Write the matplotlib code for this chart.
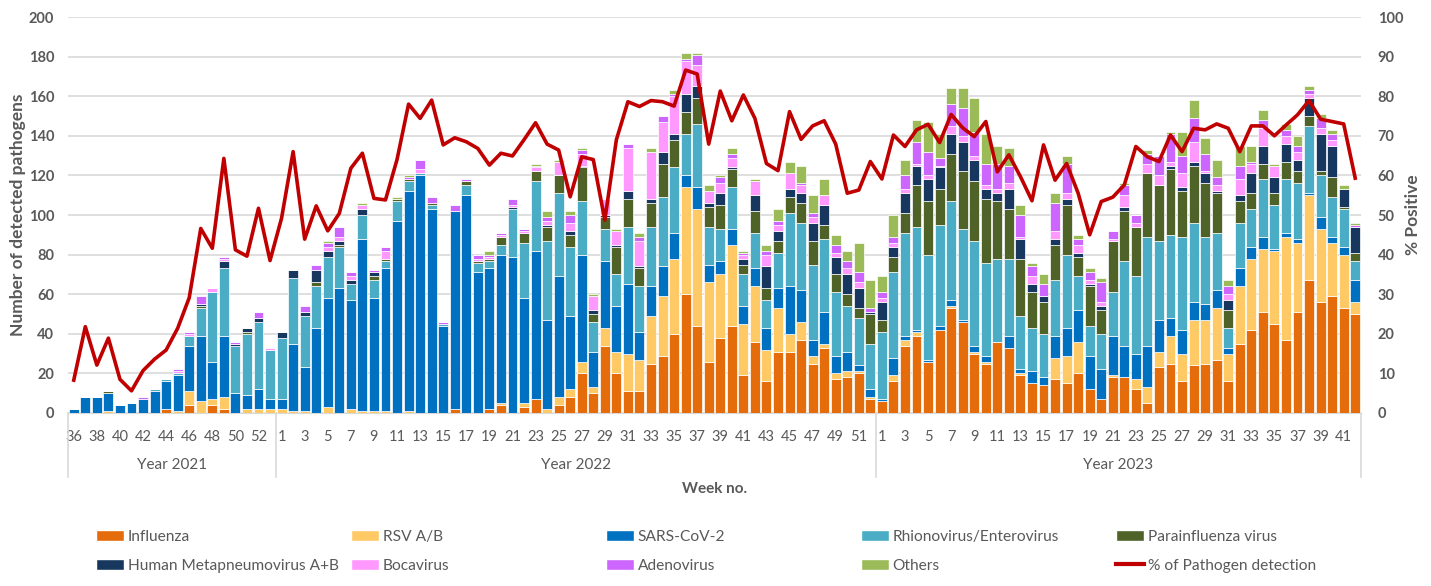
import numpy as np
import matplotlib.pyplot as plt
from matplotlib.transforms import blended_transform_factory
from matplotlib.patches import Patch
from matplotlib.lines import Line2D

plt.rcParams['font.family'] = ['Lato', 'DejaVu Sans']

# week numbers (2021 has week 53)
weeks_2021 = list(range(36, 54))
weeks_2022 = list(range(1, 53))
weeks_2023 = list(range(1, 43))
weeks = weeks_2021 + weeks_2022 + weeks_2023
years = ['Year 2021', 'Year 2022', 'Year 2023']

influenza = [0, 0, 0, 0, 0, 0, 0, 0, 2, 0, 4, 0, 4, 2, 0, 0, 0, 0, 0, 0,
             0, 0, 0, 0, 0, 0, 0, 0, 0, 0, 0, 0, 0, 2, 0, 0, 2, 4, 0, 3,
             7, 0, 4, 8, 20, 10, 34, 20, 11, 11, 25, 29, 40, 60, 44, 26, 38, 44, 19, 36,
             16, 31, 31, 37, 25, 33, 17, 18, 20, 7, 6, 16, 34, 39, 26, 42, 53, 46, 30, 25,
             36, 33, 19, 15, 14, 17, 15, 20, 12, 7, 18, 18, 12, 5, 23, 25, 16, 24, 25, 27,
             16, 35, 42, 51, 45, 37, 51, 67, 56, 59, 53, 50]
rsv = [0, 0, 0, 1, 0, 0, 0, 0, 0, 1, 7, 6, 3, 6, 0, 2, 2, 2, 2, 1,
       1, 0, 3, 0, 2, 1, 1, 1, 0, 1, 0, 0, 0, 0, 0, 0, 0, 1, 0, 2,
       0, 2, 4, 4, 6, 3, 9, 11, 19, 16, 24, 30, 38, 54, 59, 40, 32, 41, 26, 28,
       16, 22, 9, 9, 4, 2, 3, 3, 1, 1, 0, 3, 3, 2, 0, 0, 1, 0, 1, 1,
       0, 0, 1, 0, 0, 11, 14, 16, 0, 0, 1, 0, 5, 8, 8, 14, 14, 23, 22, 26,
       14, 29, 36, 32, 37, 52, 35, 43, 37, 27, 27, 6]
sars = [2, 8, 8, 9, 4, 5, 7, 11, 14, 18, 23, 33, 19, 31, 10, 7, 10, 5, 5, 34,
        22, 43, 55, 63, 55, 87, 57, 72, 97, 111, 120, 103, 44, 100, 110, 71, 71, 75, 79, 53,
        75, 45, 61, 37, 54, 18, 34, 23, 35, 14, 15, 15, 13, 6, 11, 9, 7, 8, 9, 9,
        11, 10, 24, 16, 8, 16, 9, 10, 3, 4, 1, 9, 2, 1, 1, 2, 3, 1, 3, 3,
        0, 6, 2, 6, 4, 11, 14, 16, 17, 15, 20, 16, 13, 21, 16, 9, 12, 9, 8, 9,
        3, 9, 6, 6, 1, 2, 2, 1, 6, 3, 4, 11]
rhino = [0, 0, 0, 0, 0, 0, 0, 1, 1, 1, 5, 14, 35, 34, 24, 31, 34, 25, 31, 33,
         26, 21, 21, 21, 8, 12, 9, 4, 10, 5, 1, 2, 1, 0, 5, 5, 4, 5, 24, 28,
         35, 40, 42, 35, 27, 15, 16, 16, 29, 23, 30, 35, 33, 21, 32, 19, 16, 21, 16, 18,
         14, 18, 37, 34, 38, 37, 32, 23, 24, 23, 34, 43, 52, 52, 53, 51, 50, 46, 53, 47,
         42, 39, 27, 22, 22, 28, 37, 17, 15, 18, 22, 43, 39, 55, 40, 42, 47, 40, 34, 29,
         10, 23, 19, 29, 22, 27, 28, 34, 21, 20, 19, 10]
para = [0, 0, 0, 1, 0, 0, 0, 0, 0, 0, 0, 1, 0, 0, 0, 1, 0, 0, 0, 0,
        0, 2, 0, 1, 0, 0, 2, 1, 1, 1, 0, 1, 0, 0, 2, 1, 1, 4, 0, 5,
        5, 7, 9, 6, 17, 4, 6, 14, 14, 9, 12, 17, 14, 11, 13, 10, 12, 9, 5, 11,
        6, 6, 8, 10, 12, 7, 9, 6, 5, 15, 6, 8, 10, 21, 27, 18, 24, 29, 30, 32,
        29, 25, 29, 18, 16, 18, 25, 10, 20, 12, 26, 25, 25, 32, 28, 33, 23, 29, 27, 20,
        9, 11, 8, 8, 6, 9, 6, 5, 2, 10, 1, 4]
hmpv = [0, 0, 0, 0, 0, 0, 0, 0, 0, 0, 0, 1, 0, 4, 1, 2, 2, 0, 3, 4,
        2, 6, 3, 2, 2, 3, 2, 0, 0, 0, 0, 0, 0, 0, 0, 0, 0, 0, 1, 0,
        0, 1, 0, 2, 1, 2, 1, 1, 4, 1, 2, 6, 3, 9, 6, 2, 6, 1, 3, 8,
        11, 5, 4, 5, 9, 10, 9, 10, 10, 1, 9, 5, 10, 10, 11, 11, 10, 15, 11, 5,
        4, 10, 10, 4, 3, 3, 3, 2, 1, 2, 0, 2, 0, 0, 0, 2, 2, 2, 5, 1,
        5, 3, 10, 9, 8, 9, 6, 9, 19, 16, 9, 13]
boca = [0, 0, 0, 0, 0, 0, 0, 0, 0, 1, 1, 0, 2, 1, 0, 0, 0, 1, 0, 0,
        0, 0, 2, 2, 2, 2, 0, 4, 0, 0, 2, 0, 0, 0, 0, 1, 1, 1, 1, 1,
        2, 2, 7, 4, 6, 7, 8, 7, 22, 13, 24, 15, 19, 17, 11, 6, 5, 5, 2, 7,
        6, 3, 8, 4, 3, 5, 2, 3, 3, 0, 2, 2, 2, 1, 2, 1, 4, 3, 2, 2,
        2, 3, 1, 4, 0, 4, 3, 4, 2, 2, 1, 6, 2, 5, 5, 2, 7, 10, 1, 3,
        3, 8, 5, 9, 6, 4, 4, 2, 3, 3, 0, 0]
adeno = [0, 0, 0, 0, 0, 0, 1, 0, 0, 1, 1, 4, 0, 1, 1, 0, 3, 0, 0, 0,
         3, 3, 2, 5, 2, 0, 1, 2, 0, 1, 5, 3, 1, 3, 1, 2, 1, 1, 3, 1,
         1, 2, 0, 4, 2, 0, 0, 0, 2, 2, 0, 3, 1, 1, 5, 0, 3, 2, 1, 0,
         2, 2, 0, 1, 2, 0, 4, 4, 5, 2, 3, 3, 7, 11, 12, 4, 11, 14, 12, 11,
         13, 9, 11, 5, 6, 14, 15, 3, 4, 10, 4, 5, 4, 5, 10, 14, 9, 12, 9, 4,
         4, 7, 1, 4, 0, 3, 3, 2, 5, 3, 0, 1]
others = [0, 0, 0, 0, 0, 0, 0, 0, 0, 0, 0, 0, 0, 0, 0, 0, 0, 0, 0, 0,
          0, 0, 1, 0, 0, 1, 0, 0, 1, 1, 0, 0, 0, 0, 0, 0, 2, 0, 0, 0,
          1, 3, 1, 2, 1, 1, 0, 1, 0, 2, 2, 0, 2, 3, 1, 3, 1, 3, 1, 1,
          3, 6, 6, 9, 9, 8, 5, 5, 15, 14, 8, 11, 8, 11, 15, 12, 8, 10, 17, 15,
          9, 9, 5, 2, 5, 5, 4, 2, 2, 2, 0, 1, 0, 2, 0, 1, 12, 9, 8, 9,
          3, 10, 8, 5, 1, 3, 5, 2, 2, 2, 2, 1]
pct_positive = [8.3, 21.8, 12.1, 18.9, 8.5, 5.6, 10.7, 13.6, 15.9, 21.4,
                29.1, 46.6, 41.6, 64.3, 41.2, 39.6, 51.7, 38.5, 49.2, 66,
                43.9, 52.3, 46, 50.4, 61.8, 65.6, 54.2, 53.8, 64, 78,
                74.4, 79, 67.7, 69.5, 68.5, 66.8, 62.6, 65.6, 64.9, 69,
                73.3, 67.9, 66.4, 54.6, 64.7, 64, 48.7, 69, 78.6, 77.4,
                78.9, 78.6, 77.5, 86.6, 85.6, 67.9, 81.3, 73.8, 80.3, 74.4,
                63, 61.2, 76.1, 69.1, 72.5, 73.8, 67.9, 55.5, 56.3, 63.5,
                59.1, 70.2, 67.3, 71.5, 72.9, 68.3, 75.4, 72, 69.8, 73.6,
                60.9, 65.2, 59.7, 53.6, 67.7, 58.8, 63, 55.5, 45, 53.4,
                54.5, 57.6, 67.3, 64.7, 63.5, 70.2, 66, 71.9, 71.5, 73,
                71.9, 66, 72.5, 72.5, 70, 72.7, 75.3, 78.9, 74.2, 73.6,
                73, 59.3]

series = [
    (influenza, '#E46C0A', 'Influenza'),
    (rsv, '#FFC966', 'RSV A/B'),
    (sars, '#0070C0', 'SARS-CoV-2'),
    (rhino, '#4BACC6', 'Rhionovirus/Enterovirus'),
    (para, '#4F6228', 'Parainfluenza virus'),
    (hmpv, '#17375E', 'Human Metapneumovirus A+B'),
    (boca, '#FF99FF', 'Bocavirus'),
    (adeno, '#CC66FF', 'Adenovirus'),
    (others, '#9BBB59', 'Others'),
]

grey = '#595959'
W, H = 1431, 586
fig = plt.figure(figsize=(W / 100, H / 100), dpi=100)
ax = fig.add_axes([68 / W, 1 - 413 / H, (1361 - 68) / W, (413 - 17) / H])

x = np.arange(len(weeks))
bottom = np.zeros(len(weeks))
for vals, color, name in series:
    ax.bar(x, vals, width=0.86, bottom=bottom, color=color,
           edgecolor='white', linewidth=0.5, zorder=3)
    bottom += np.array(vals)

ax.set_xlim(-0.5, len(weeks) - 0.5)
ax.set_ylim(0, 200)
ax.set_yticks(range(0, 201, 20))
ax.grid(axis='y', color='#D9D9D9', linewidth=1.2, zorder=0)
ax.set_axisbelow(True)
for s in ['top', 'left', 'right']:
    ax.spines[s].set_visible(False)
ax.spines['bottom'].set_color('#D9D9D9')

ax.set_xticks(x[::2])
ax.set_xticklabels([str(w) for w in weeks[::2]])
ax.tick_params(axis='x', length=0, pad=12, labelsize=10.5, labelcolor=grey)
ax.tick_params(axis='y', length=0, pad=10, labelsize=10.5, labelcolor=grey)
for lbl in ax.get_yticklabels():
    lbl.set_fontweight('bold')

# line on secondary axis
ax2 = ax.twinx()
ax2.plot(x, pct_positive, color='#C00000', linewidth=2.6, zorder=5)
ax2.set_ylim(0, 100)
ax2.set_yticks(range(0, 101, 10))
for s in ['top', 'left', 'right', 'bottom']:
    ax2.spines[s].set_visible(False)
ax2.tick_params(axis='y', length=0, pad=12, labelsize=10.5, labelcolor=grey)
for lbl in ax2.get_yticklabels():
    lbl.set_fontweight('bold')

# year groups below week numbers
trans = blended_transform_factory(ax.transData, ax.transAxes)
bounds = [-0.5, len(weeks_2021) - 0.5, len(weeks_2021) + len(weeks_2022) - 0.5, len(weeks) - 0.5]
for b in bounds:
    ax.plot([b, b], [0, -0.162], transform=trans, color='#D9D9D9', lw=1.2, clip_on=False)
for i, name in enumerate(years):
    ax.text((bounds[i] + bounds[i + 1]) / 2, -0.131, name, transform=trans,
            ha='center', va='center', fontsize=11, color=grey)

fig.text(715 / W, 1 - 489 / H, 'Week no.', ha='center', va='center',
         fontsize=11, fontweight='bold', color=grey)
fig.text(18 / W, 1 - 215 / H, 'Number of detected pathogens', rotation=90,
         ha='center', va='center', fontsize=12.5, fontweight='bold', color=grey)
fig.text(1413 / W, 1 - 215 / H, '% Positive', rotation=90,
         ha='center', va='center', fontsize=12.5, fontweight='bold', color=grey)

# legend: 5 columns, 2 rows
handles = [Patch(facecolor=c, edgecolor='white', label=n) for _, c, n in series]
handles.append(Line2D([0], [0], color='#C00000', lw=3, label='% of Pathogen detection'))
col_x = [88, 343, 598, 853, 1108]
for c in range(5):
    hs = [handles[c], handles[c + 5]]
    fig.legend(handles=hs, loc='upper left', bbox_to_anchor=(col_x[c] / W, 1 - 522 / H),
               frameon=False, fontsize=11.2, labelcolor=grey, handlelength=1.8,
               handleheight=0.75, handletextpad=0.25, labelspacing=0.95, borderpad=0)

fig.savefig('out.png', dpi=100)
